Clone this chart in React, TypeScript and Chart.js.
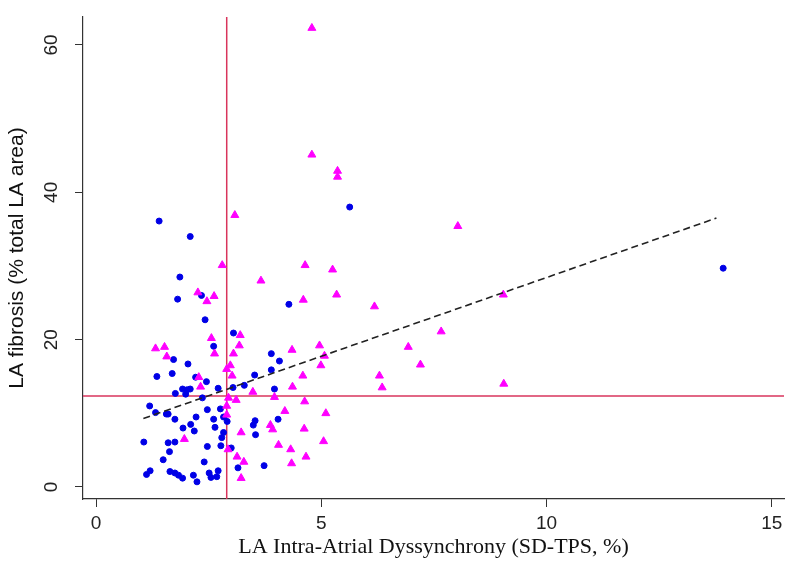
import React, { useEffect, useRef } from "react";
import { Chart, registerables } from "chart.js";

Chart.register(...registerables);

// Axis ranges and ticks
const xRange = [-0.29, 15.27];
const yRange = [-1.63, 63.8];
const xTicks = [0, 5, 10, 15];
const yTicks = [0, 20, 40, 60];

// Reference lines
const refX = 2.9;
const refY = 12.35;

// Linear fit end points
const fitX = [1.05, 13.77];
const fitY = [9.3, 36.5];

// Blue circles
const blueX = [
  1.40, 2.09, 1.86, 1.81, 2.34, 4.28, 5.63, 13.92, 2.42, 3.05,
  2.61, 3.89, 4.07, 3.89, 3.52, 2.45, 3.29, 3.04, 2.71, 3.96,
  2.36, 2.47, 2.76, 2.83, 2.61, 4.04, 3.53, 2.91, 3.49, 2.64,
  2.83, 3.54, 2.79, 2.47, 2.77, 3.00, 2.40, 3.73, 3.15, 2.51,
  2.71, 2.55, 2.68, 1.72, 2.04, 1.35, 1.69, 2.21, 1.92, 2.02,
  2.09, 1.76, 1.99, 1.19, 1.32, 1.56, 1.60, 1.75, 2.22, 1.93,
  2.10, 2.18, 1.06, 1.60, 1.75, 1.63, 1.49, 1.12, 1.20, 1.64,
  1.75, 1.83, 1.92, 2.16, 2.24,
];
const blueY = [
  36.1, 34.0, 28.5, 25.5, 26.0, 24.8, 38.0, 29.7, 22.7, 20.9,
  19.1, 18.1, 17.1, 15.9, 15.2, 14.3, 13.8, 13.5, 13.4, 13.3,
  12.1, 10.5, 10.6, 9.5, 9.2, 9.2, 9.0, 8.9, 8.4, 8.1,
  7.4, 7.1, 6.7, 5.5, 5.6, 5.3, 3.4, 2.9, 2.6, 1.9,
  2.2, 1.3, 1.4, 17.3, 16.7, 15.0, 15.4, 14.9, 13.3, 13.2,
  13.3, 12.7, 12.6, 11.0, 10.1, 9.9, 9.9, 9.2, 9.5, 8.0,
  8.5, 7.6, 6.1, 6.0, 6.1, 4.8, 3.7, 1.7, 2.2, 2.1,
  1.9, 1.6, 1.2, 1.6, 0.7,
];

// Magenta triangles
const pinkX = [
  4.79, 4.79, 5.36, 5.36, 8.03, 3.08, 2.80, 3.66, 2.26, 2.62,
  2.46, 4.64, 5.25, 5.34, 4.60, 9.04, 6.18, 7.66, 4.96, 5.07,
  6.93, 4.99, 7.20, 4.59, 6.29, 6.35, 9.05, 4.63, 5.10, 3.20,
  2.56, 3.18, 2.63, 3.05, 4.35, 2.98, 2.90, 3.02, 3.48, 4.36,
  2.94, 3.11, 3.96, 2.90, 4.19, 2.90, 3.87, 3.92, 4.62, 3.22,
  5.05, 4.05, 2.93, 4.32, 4.66, 3.13, 3.28, 4.34, 3.22, 1.32,
  1.52, 1.57, 2.28, 2.32, 1.96,
];
const pinkY = [
  62.3, 45.1, 42.9, 42.1, 35.4, 36.9, 30.1, 28.0, 26.4, 25.9,
  25.2, 30.1, 29.5, 26.1, 25.4, 26.1, 24.5, 21.1, 19.2, 17.8,
  19.0, 16.5, 16.6, 15.1, 15.1, 13.5, 14.0, 11.6, 10.0, 20.6,
  20.2, 19.2, 18.1, 18.1, 18.6, 16.5, 16.0, 15.1, 12.9, 13.6,
  12.1, 11.8, 12.2, 11.0, 10.3, 9.8, 8.4, 7.8, 7.9, 7.4,
  6.2, 5.7, 5.1, 5.1, 4.1, 4.1, 3.4, 3.2, 1.2, 18.8,
  19.0, 17.7, 14.9, 13.6, 6.5,
];

const toPts = (xs: number[], ys: number[]) => xs.map((x, i) => ({ x, y: ys[i] }));

const SANS = '"Liberation Sans", Arial, sans-serif';
const SERIF = '"Liberation Serif", "Times New Roman", serif';

const yTickLabelPlugin = {
  id: "yTickLabels",
  afterDraw(chart: any) {
    const ys = chart.scales.y;
    const ctx = chart.ctx;
    ctx.save();
    ctx.font = `19px ${SANS}`;
    ctx.fillStyle = "#222";
    ctx.textAlign = "center";
    ctx.textBaseline = "alphabetic";
    const bx = chart.chartArea.left - 26;
    for (const t of ys.ticks) {
      const py = ys.getPixelForValue(t.value);
      ctx.save();
      ctx.translate(bx, py);
      ctx.rotate(-Math.PI / 2);
      ctx.fillText(String(t.value), 0, 0);
      ctx.restore();
    }
    ctx.restore();
  },
};

export default function App() {
  const ref = useRef<HTMLCanvasElement>(null);

  useEffect(() => {
    if (!ref.current) return;
    const chart = new Chart(ref.current, {
      type: "scatter",
      data: {
        datasets: [
          {
            label: "vline",
            data: [
              { x: refX, y: yRange[0] },
              { x: refX, y: yRange[1] },
            ],
            showLine: true,
            borderColor: "#d9345c",
            borderWidth: 1.5,
            pointRadius: 0,
            order: 5,
          } as any,
          {
            label: "hline",
            data: [
              { x: xRange[0], y: refY },
              { x: xRange[1], y: refY },
            ],
            showLine: true,
            borderColor: "#d9345c",
            borderWidth: 1.5,
            pointRadius: 0,
            order: 5,
          },
          {
            label: "blue",
            data: toPts(blueX, blueY),
            pointStyle: "circle",
            pointRadius: 3,
            backgroundColor: "#0000e6",
            borderColor: "#0000e6",
            borderWidth: 1,
            order: 3,
          },
          {
            label: "pink",
            data: toPts(pinkX, pinkY),
            pointStyle: "triangle",
            pointRadius: 4.6,
            backgroundColor: "#ff00ff",
            borderColor: "#ff00ff",
            borderWidth: 1,
            order: 2,
          },
          {
            label: "fit",
            data: toPts(fitX, fitY),
            showLine: true,
            borderColor: "#222",
            borderWidth: 1.6,
            borderDash: [7, 4],
            pointRadius: 0,
            order: 1,
          },
        ],
      },
      options: {
        animation: false,
        responsive: false,
        layout: { padding: { left: 0, top: 17, right: 16, bottom: 0 } },
        plugins: { legend: { display: false }, tooltip: { enabled: false } },
        scales: {
          x: {
            type: "linear",
            min: xRange[0],
            max: xRange[1],
            afterBuildTicks: (s: any) => {
              s.ticks = xTicks.map((v) => ({ value: v }));
            },
            afterFit: (s: any) => {
              s.height = 70;
            },
            grid: { drawOnChartArea: false, drawTicks: true, tickLength: 8, color: "#333", lineWidth: 1 },
            border: { display: true, color: "#333", width: 1.2 },
            ticks: {
              padding: 5,
              color: "#222",
              font: { family: SANS, size: 19 },
              callback: (v: any) => String(v),
              maxRotation: 0,
              autoSkip: false,
            },
            title: {
              display: true,
              text: "LA Intra-Atrial Dyssynchrony (SD-TPS, %)",
              color: "#111",
              font: { family: SERIF, size: 22 },
              padding: { top: 0, bottom: 9 },
            },
          },
          y: {
            type: "linear",
            min: yRange[0],
            max: yRange[1],
            afterBuildTicks: (s: any) => {
              s.ticks = yTicks.map((v) => ({ value: v }));
            },
            afterFit: (s: any) => {
              s.width = 83;
            },
            grid: { drawOnChartArea: false, drawTicks: true, tickLength: 8, color: "#333", lineWidth: 1 },
            border: { display: true, color: "#333", width: 1.2 },
            ticks: {
              color: "rgba(0,0,0,0)",
              font: { family: SANS, size: 19 },
              callback: (v: any) => String(v),
              autoSkip: false,
            },
            title: {
              display: true,
              text: "LA fibrosis (% total LA area)",
              color: "#111",
              font: { family: SANS, size: 21 },
              padding: { top: 5, bottom: 0 },
            },
          },
        },
      },
      plugins: [yTickLabelPlugin],
    });
    return () => chart.destroy();
  }, []);

  return (
    <div style={{ position: "absolute", left: 0, top: 0, width: 800, height: 569, background: "#fff" }}>
      <canvas ref={ref} width={800} height={569} style={{ display: "block" }} />
    </div>
  );
}
